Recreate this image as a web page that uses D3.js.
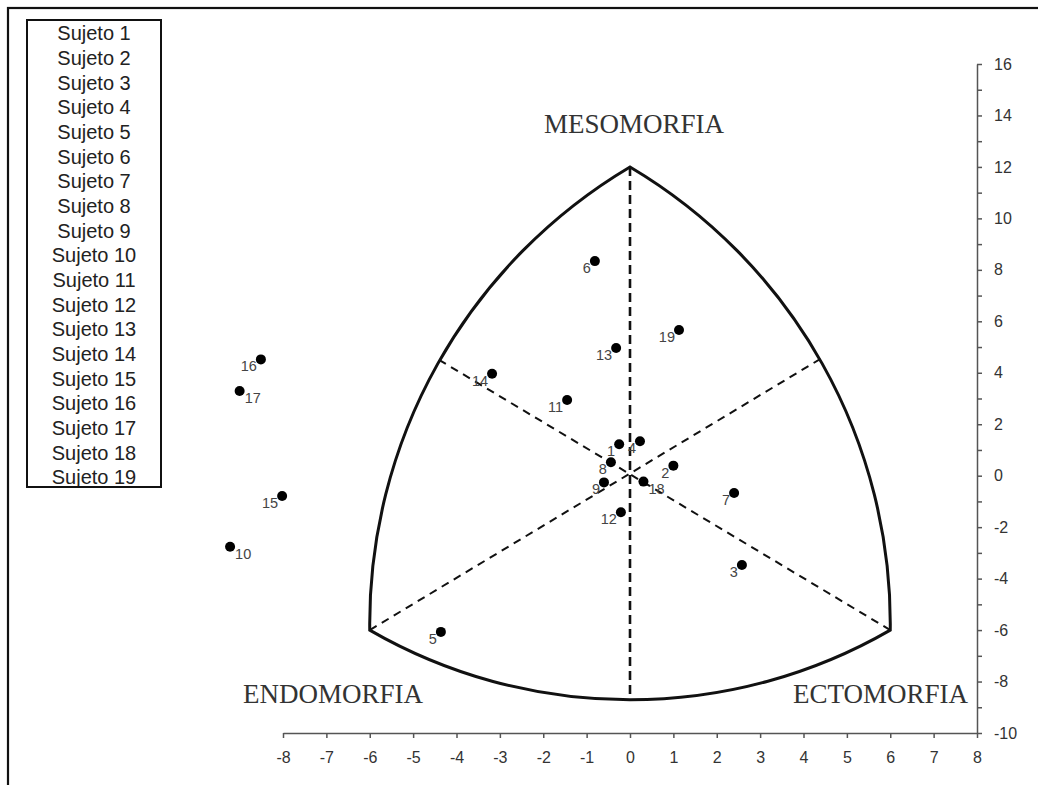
<!DOCTYPE html>
<html>
<head>
<meta charset="utf-8">
<script src="https://cdn.jsdelivr.net/npm/d3@7"></script>
<style>
body { margin: 0; background: #fff; }
.axis path, .axis line { stroke: #555; stroke-width: 1.5; }
.axis text { font-family: "Liberation Sans", Arial, sans-serif; font-size: 16px; fill: #333; }
</style>
</head>
<body>
<div id="chart"></div>
<script>
// legend entries
var subjects = ["Sujeto 1", "Sujeto 2", "Sujeto 3", "Sujeto 4", "Sujeto 5", "Sujeto 6",
    "Sujeto 7", "Sujeto 8", "Sujeto 9", "Sujeto 10", "Sujeto 11", "Sujeto 12", "Sujeto 13",
    "Sujeto 14", "Sujeto 15", "Sujeto 16", "Sujeto 17", "Sujeto 18", "Sujeto 19"];

// somatopoints
var pointIds = [1, 2, 3, 4, 5, 6, 7, 8, 9, 10, 11, 12, 13, 14, 15, 16, 17, 18, 19];
var pointX = [-0.25, 1.0, 2.58, 0.23, -4.36, -0.81, 2.40, -0.44, -0.60, -9.22,
    -1.45, -0.21, -0.32, -3.18, -8.02, -8.51, -9.00, 0.31, 1.13];
var pointY = [1.22, 0.39, -3.47, 1.34, -6.07, 8.34, -0.67, 0.52, -0.26, -2.76,
    2.94, -1.42, 4.96, 3.96, -0.79, 4.52, 3.29, -0.23, 5.66];
var rightLabels = [10, 17, 18];

var xTicks = [-8, -7, -6, -5, -4, -3, -2, -1, 0, 1, 2, 3, 4, 5, 6, 7, 8];
var yTicks = [-10, -8, -6, -4, -2, 0, 2, 4, 6, 8, 10, 12, 14, 16];
var yMinor = [-9, -7, -5, -3, -1, 1, 3, 5, 7, 9, 11, 13, 15];

// somatochart triangle: vertices and the opposite arc midpoints
var vertices = [[0, 12], [6, -6], [-6, -6]];
var arcMids = [[0, -8.7], [-4.5, 4.6], [4.45, 4.6]];
var zoneNames = ["MESOMORFIA", "ENDOMORFIA", "ECTOMORFIA"];

var W = 1038, H = 785;
var svg = d3.select("#chart").append("svg").attr("width", W).attr("height", H);

var x = d3.scaleLinear().domain([-8, 8]).range([283, 977]),
    y = d3.scaleLinear().domain([-10, 16]).range([733, 64]);
var plain = function(d) { return String(d); }; // hyphen minus like the original

// outer frame (right/bottom edges fall off the picture)
svg.append("rect").attr("x", 8).attr("y", 8).attr("width", W).attr("height", H)
    .attr("fill", "none").attr("stroke", "#111").attr("stroke-width", 2.2);

// axes
svg.append("g").attr("class", "axis")
    .attr("transform", "translate(" + x(8) + ",0)")
    .call(d3.axisRight(y).tickValues(yTicks).tickSize(5).tickSizeOuter(0)
        .tickPadding(12).tickFormat(plain));
svg.append("g").attr("class", "axis")
    .attr("transform", "translate(" + x(8) + ",0)")
    .call(d3.axisRight(y).tickValues(yMinor).tickSize(5).tickSizeOuter(0).tickFormat(""))
    .select(".domain").remove();
svg.append("g").attr("class", "axis")
    .attr("transform", "translate(0," + y(-10) + ")")
    .call(d3.axisBottom(x).tickValues(xTicks).tickSize(5).tickSizeOuter(0)
        .tickPadding(14).tickFormat(plain));

// outline: Reuleaux-like arcs between the vertices
var pv = vertices.map(function(v) { return [x(v[0]), y(v[1])]; });
function dist(a, b) { return Math.hypot(a[0] - b[0], a[1] - b[1]); }
var outline = "M" + pv[0];
for (var i = 0; i < 3; i++) {
    var a = pv[i], b = pv[(i + 1) % 3], r = dist(a, b);
    outline += "A" + r + "," + r + " 0 0 1 " + b;
}
outline += "Z";

// dashed lines from each vertex to the opposite arc
svg.selectAll(".guide").data(vertices).enter().append("line")
    .attr("class", "guide")
    .attr("x1", function(d) { return x(d[0]); })
    .attr("y1", function(d) { return y(d[1]); })
    .attr("x2", function(d, i) { return x(arcMids[i][0]); })
    .attr("y2", function(d, i) { return y(arcMids[i][1]); })
    .attr("stroke", "#111")
    .attr("stroke-width", function(d, i) { return i === 0 ? 2.6 : 2; })
    .attr("stroke-dasharray", function(d, i) { return i === 0 ? "9,5" : "8,6"; });

svg.append("path").attr("d", outline)
    .attr("fill", "none").attr("stroke", "#111").attr("stroke-width", 3)
    .attr("stroke-linejoin", "miter");

// zone titles
var titles = svg.append("g")
    .attr("font-family", "'Liberation Serif', 'Times New Roman', serif")
    .attr("font-size", 27).attr("fill", "#333");
titles.append("text").text(zoneNames[0])
    .attr("x", 634).attr("y", 133).attr("text-anchor", "middle");
titles.append("text").text(zoneNames[1])
    .attr("x", 243).attr("y", 703).attr("text-anchor", "start");
titles.append("text").text(zoneNames[2])
    .attr("x", 968).attr("y", 703).attr("text-anchor", "end");

// points
var pts = pointIds.map(function(id, i) { return {id: id, x: pointX[i], y: pointY[i]}; });
var g = svg.append("g");
g.selectAll("circle").data(pts).enter().append("circle")
    .attr("cx", function(d) { return x(d.x); })
    .attr("cy", function(d) { return y(d.y); })
    .attr("r", 5).attr("fill", "#000");
g.selectAll("text").data(pts).enter().append("text")
    .text(function(d) { return d.id; })
    .attr("x", function(d) { return x(d.x) + (rightLabels.indexOf(d.id) >= 0 ? 5 : -4); })
    .attr("y", function(d) { return y(d.y) + 12; })
    .attr("text-anchor", function(d) { return rightLabels.indexOf(d.id) >= 0 ? "start" : "end"; })
    .attr("font-family", "'Liberation Sans', Arial, sans-serif")
    .attr("font-size", 14.5).attr("fill", "#444");

// legend (text only, clipped by its box)
var lg = svg.append("g");
svg.append("clipPath").attr("id", "lclip").append("rect")
    .attr("x", 27).attr("y", 20).attr("width", 134).attr("height", 467);
lg.append("g").attr("clip-path", "url(#lclip)")
    .selectAll("text").data(subjects).enter().append("text")
    .text(function(d) { return d; })
    .attr("x", 94)
    .attr("y", function(d, i) { return 33 + i * 24.67; })
    .attr("dy", "0.36em")
    .attr("text-anchor", "middle")
    .attr("font-family", "'Liberation Sans', Arial, sans-serif")
    .attr("font-size", 20).attr("fill", "#222");
lg.append("rect").attr("x", 27).attr("y", 20).attr("width", 134).attr("height", 467)
    .attr("fill", "none").attr("stroke", "#111").attr("stroke-width", 2);
</script>
</body>
</html>
